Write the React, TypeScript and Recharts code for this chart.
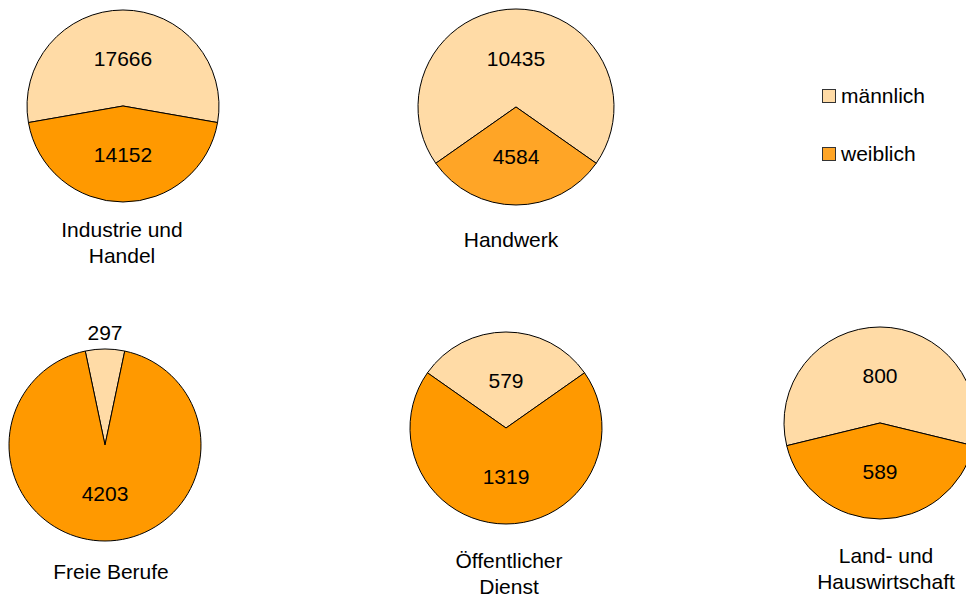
import { PieChart, Pie, Cell } from "recharts";

const categories = [
  "Industrie und Handel",
  "Handwerk",
  "Freie Berufe",
  "Öffentlicher Dienst",
  "Land- und Hauswirtschaft",
];
const maennlich = [17666, 10435, 297, 579, 800];
const weiblich = [14152, 4584, 4203, 1319, 589];

// title split into lines as in the picture
const titleLines = [
  ["Industrie und", "Handel"],
  ["Handwerk"],
  ["Freie Berufe"],
  ["Öffentlicher", "Dienst"],
  ["Land- und", "Hauswirtschaft"],
];

const MALE = "#FFDBA6";
const FEMALE = "#FF9900";
const FEMALE_ALT = "#FFA526";

// layout: pie centres, radius, title position
const layout = [
  { cx: 123, cy: 106, r: 96, tx: 122, ty: 230 },
  { cx: 516, cy: 107, r: 98, tx: 511, ty: 240 },
  { cx: 105, cy: 445, r: 96, tx: 111, ty: 572 },
  { cx: 506, cy: 428, r: 96, tx: 509, ty: 561 },
  { cx: 880, cy: 423, r: 96, tx: 886, ty: 556 },
];

const FONT = "'Liberation Sans', Arial, sans-serif";
const RADIAN = Math.PI / 180;

const renderLabel = (props: any) => {
  const { cx, cy, midAngle, outerRadius, percent, value } = props;
  // small slices get their label outside (Excel best fit)
  const r = percent < 0.1 ? outerRadius + 17 : outerRadius * 0.5;
  const x = cx + r * Math.cos(-midAngle * RADIAN);
  const y = cy + r * Math.sin(-midAngle * RADIAN);
  return (
    <text
      x={x}
      y={y}
      fill="#000"
      fontSize={21}
      fontFamily={FONT}
      textAnchor="middle"
      dominantBaseline="central"
    >
      {value}
    </text>
  );
};

const App = () => {
  return (
    <div
      style={{
        position: "absolute",
        left: 0,
        top: 0,
        width: 966,
        height: 597,
        overflow: "hidden",
        background: "#fff",
        fontFamily: FONT,
      }}
    >
      <PieChart
        width={966}
        height={597}
        margin={{ top: 0, right: 0, bottom: 0, left: 0 }}
        style={{ position: "absolute", left: 0, top: 0 }}
      >
        {categories.map((name, i) => {
          const data = [
            { name: "männlich", value: maennlich[i] },
            { name: "weiblich", value: weiblich[i] },
          ];
          const total = maennlich[i] + weiblich[i];
          const mAngle = (maennlich[i] / total) * 360;
          const start = 90 - mAngle / 2;
          const l = layout[i];
          return (
            <Pie
              key={name}
              data={data}
              dataKey="value"
              nameKey="name"
              cx={l.cx}
              cy={l.cy}
              outerRadius={l.r}
              startAngle={start}
              endAngle={start + 360}
              stroke="#000"
              strokeWidth={1}
              label={renderLabel}
              labelLine={false}
              isAnimationActive={false}
            >
              <Cell fill={MALE} />
              <Cell fill={i === 1 ? FEMALE_ALT : FEMALE} />
            </Pie>
          );
        })}
      </PieChart>

      {titleLines.map((lines, i) => (
        <div
          key={i}
          style={{
            position: "absolute",
            left: layout[i].tx,
            top: layout[i].ty - 13.5,
            transform: "translateX(-50%)",
            textAlign: "center",
            fontSize: 21,
            lineHeight: "26px",
            whiteSpace: "nowrap",
            color: "#000",
          }}
        >
          {lines.map((t) => (
            <div key={t}>{t}</div>
          ))}
        </div>
      ))}

      {[
        { label: "männlich", color: MALE, y: 95.5 },
        { label: "weiblich", color: FEMALE_ALT, y: 154 },
      ].map((it) => (
        <div
          key={it.label}
          style={{
            position: "absolute",
            left: 822,
            top: it.y - 13.5,
            height: 27,
            display: "flex",
            alignItems: "center",
            fontSize: 21,
            whiteSpace: "nowrap",
          }}
        >
          <span
            style={{
              display: "inline-block",
              width: 12,
              height: 12,
              background: it.color,
              border: "1px solid #333",
              marginRight: 5,
            }}
          />
          {it.label}
        </div>
      ))}
    </div>
  );
};

export default App;
